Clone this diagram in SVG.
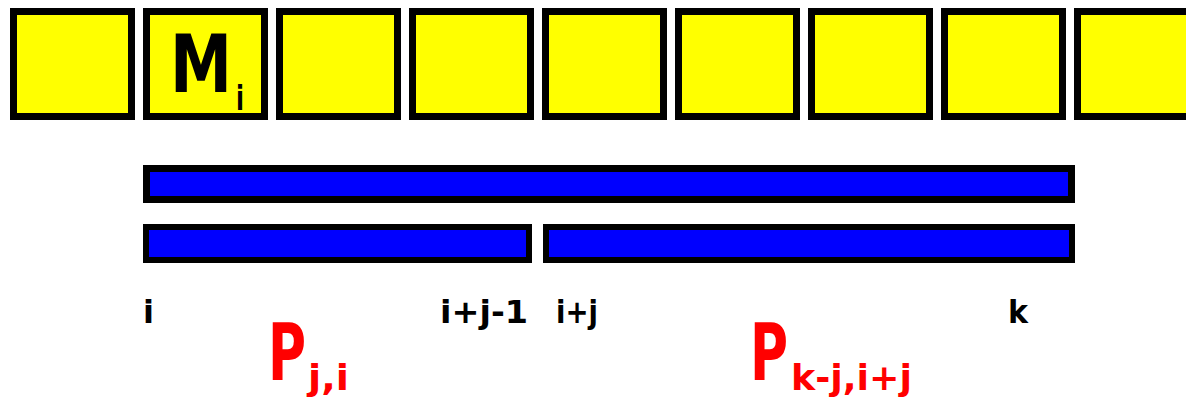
<svg xmlns="http://www.w3.org/2000/svg" width="1186" height="400" viewBox="0 0 1186 400">
<style>
.cell{fill:#ffff00;stroke:#000;stroke-width:7}
.bar{fill:#0000ff;stroke:#000;stroke-width:7}
.bar2{fill:#0000ff;stroke:#000;stroke-width:6}
.lbl{font-family:"DejaVu Sans",sans-serif;font-weight:bold;fill:#000}
.red{font-family:"DejaVu Sans",sans-serif;font-weight:bold;fill:#ff0000}
</style>
<rect width="1186" height="400" fill="#fff"/>
<g id="cells">
<rect class="cell" x="13.5" y="11.5" width="118" height="105"/>
<rect class="cell" x="146.5" y="11.5" width="118" height="105"/>
<rect class="cell" x="279.5" y="11.5" width="118" height="105"/>
<rect class="cell" x="412.5" y="11.5" width="118" height="105"/>
<rect class="cell" x="545.5" y="11.5" width="118" height="105"/>
<rect class="cell" x="678.5" y="11.5" width="118" height="105"/>
<rect class="cell" x="811.5" y="11.5" width="118" height="105"/>
<rect class="cell" x="944.5" y="11.5" width="118" height="105"/>
<rect class="cell" x="1077.5" y="11.5" width="118" height="105"/>
</g>
<g id="Mi">
<text class="lbl" x="170" y="92" font-size="80" textLength="62" lengthAdjust="spacingAndGlyphs">M</text>
<text class="lbl" x="236" y="110" font-size="34" textLength="8" lengthAdjust="spacingAndGlyphs">i</text>
</g>
<g id="bars">
<rect class="bar" x="146.5" y="168.5" width="925" height="31"/>
<rect class="bar2" x="146" y="227" width="383" height="33"/>
<rect class="bar2" x="546" y="227" width="526" height="33"/>
</g>
<g id="labels">
<text class="lbl" x="143" y="323" font-size="32">i</text>
<text class="lbl" x="440" y="323" font-size="32" textLength="88" lengthAdjust="spacingAndGlyphs">i+j-1</text>
<text class="lbl" x="556" y="323" font-size="32" textLength="42" lengthAdjust="spacingAndGlyphs">i+j</text>
<text class="lbl" x="1008" y="323" font-size="32" textLength="20" lengthAdjust="spacingAndGlyphs">k</text>
</g>
<g id="Pji">
<text class="red" x="268" y="380" font-size="78" textLength="38" lengthAdjust="spacingAndGlyphs">P</text>
<text class="red" x="308" y="390" font-size="36" textLength="41" lengthAdjust="spacingAndGlyphs">j,i</text>
</g>
<g id="Pkj">
<text class="red" x="750" y="380" font-size="78" textLength="38" lengthAdjust="spacingAndGlyphs">P</text>
<text class="red" x="791" y="390" font-size="36" textLength="121" lengthAdjust="spacingAndGlyphs">k-j,i+j</text>
</g>
</svg>
